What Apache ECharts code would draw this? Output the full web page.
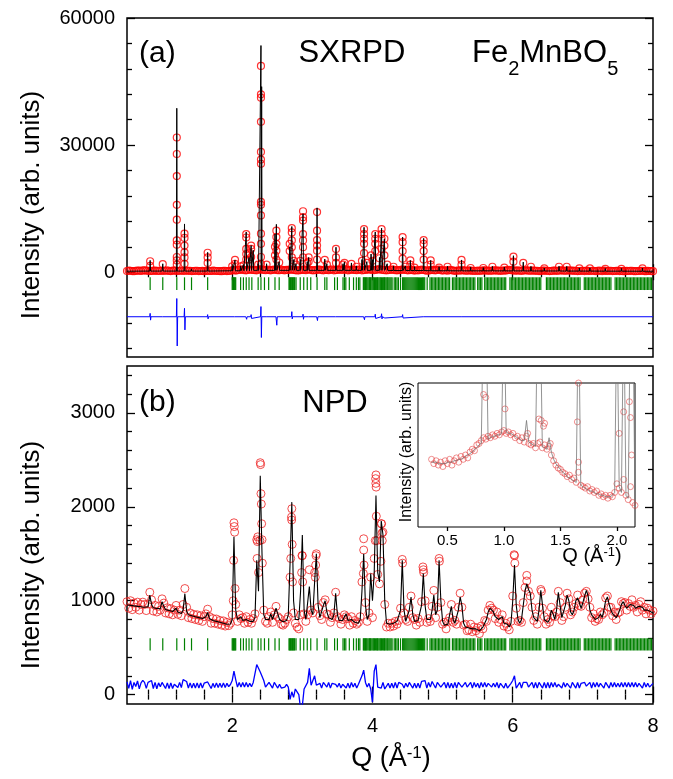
<!DOCTYPE html>
<html><head><meta charset="utf-8">
<script src="https://cdn.jsdelivr.net/npm/echarts@6/dist/echarts.min.js"></script>
<style>html,body{margin:0;padding:0;background:#fff}#c{width:673px;height:779px}</style>
</head><body><div id="c"></div>
<script>
// ---------- Panel (a) SXRPD ----------
const qStartA = 0.5, qStepA = 0.025;
const obsBaseA = [
300,380,350,280,250,330,400,360,300,420,
450,380,350,300,300,370,400,320,350,300,
400,330,350,420,300,280,400,360,350,300,
350,410,300,350,400,330,350,280,300,350,
350,280,300,330,250,310,350,290,300,380,
350,300,300,270,250,330,350,280,300,350,
450,500,400,480,550,620,600,500,450,560,
650,580,550,480,450,600,700,620,550,480,
600,520,450,560,650,580,500,470,600,520,
450,580,550,600,650,560,500,430,450,520,
600,550,500,620,650,520,450,480,550,630,
600,520,450,560,550,480,600,650,450,520,
550,620,600,530,700,600,450,520,650,580,
550,480,600,650,450,520,550,620,650,580,
600,520,550,680,700,600,550,480,450,520,
550,620,600,500,450,520,550,600,600,530,
450,500,550,480,400,470,450,520,600,530,
450,380,400,480,550,500,450,550,650,500,
400,470,450,380,550,500,400,330,350,420,
400,450,450,380,350,420,400,330,350,300,
400,330,350,420,450,380,400,350,350,420,
450,380,400,330,350,420,400,480,550,470,
450,380,400,420,350,330,400,460,450,380,
350,400,400,330,350,280,300,370,400,330,
350,280,300,370,400,330,350,420,450,380,
350,400,450,380,400,330,350,280,300,350,
350,280,400,330,300,350,350,280,300,370,
350,280,400,330,300,350,350,270,300,330,
350,280,300,250,250,320,300,330,350,280,
250,300,300,330,350,280,250,320,300,280,
250];
const bgQA = [0.5,1,1.5,2,2.5,3,3.5,4,4.5,5,5.5,6,6.5,7,7.5,8];
const bgA = [250,280,280,350,450,450,450,450,400,350,330,320,300,280,260,240];
const peakQA = [0.83,1.01,1.21,1.32,1.42,1.65,2.00,2.04,2.12,2.16,2.20,2.24,2.27,2.30,2.37,2.41,2.42,2.49,2.61,2.63,2.67,2.82,2.85,2.88,2.91,2.97,3.01,3.07,3.09,3.21,3.32,3.35,3.48,3.58,3.60,3.70,3.77,3.85,3.88,3.92,3.98,4.00,4.04,4.10,4.13,4.17,4.21,4.30,4.43,4.47,4.54,4.60,4.73,4.83,4.95,5.07,5.27,5.40,5.58,5.71,5.88,6.01,6.15,6.26,6.45,6.66,6.77,6.95,7.10,7.32,7.55,7.85];
const peakHA = [2800,2000,38700,11400,800,4700,1500,2900,1500,1800,9500,3500,6300,5200,2000,53500,43800,2000,9000,11300,2500,6000,10800,3000,2000,3000,13800,2500,3500,15200,3100,2000,5900,2000,2400,2200,1500,3000,10600,2500,4300,3000,9500,3500,10400,7900,2000,1500,8300,1500,2800,1300,8000,2800,1300,1400,2900,1200,1100,1400,1200,3900,2400,1400,1000,1400,1400,1000,1000,900,900,1000];
const obsPeakA = [
[0.83,2600],[0.83,1500],[1.01,1900],
[1.21,31800],[1.21,27900],[1.21,22700],[1.21,15900],[1.21,12400],[1.21,7500],[1.21,6500],[1.21,3600],[1.21,2800],[1.21,1800],
[1.32,9100],[1.32,8100],[1.32,6300],[1.32,4700],[1.32,3500],[1.32,2000],
[1.65,4600],[1.65,3500],[1.65,2200],[2.00,1400],[2.04,2900],[2.04,2000],[2.12,1400],[2.16,1600],
[2.20,9000],[2.20,8200],[2.20,5500],[2.20,4300],[2.20,3000],[2.24,4500],[2.24,3000],
[2.27,6300],[2.27,5500],[2.27,3600],[2.37,1800],
[2.41,48700],[2.41,42000],[2.41,41200],[2.41,35500],[2.41,28400],[2.41,26600],[2.41,25600],[2.41,16600],[2.41,15900],[2.41,13400],[2.41,9100],[2.41,6700],[2.41,3600],[2.41,2000],
[2.49,1800],[2.61,6000],[2.61,4000],[2.63,9800],[2.63,8300],[2.63,6700],[2.63,5100],[2.63,3000],[2.67,2300],
[2.82,6700],[2.82,5000],[2.85,10400],[2.85,9400],[2.85,7500],[2.85,5900],[2.85,3500],[2.88,2700],[2.91,1800],[2.97,2700],
[3.01,14400],[3.01,13000],[3.01,12200],[3.01,9000],[3.01,7500],[3.01,5900],[3.01,3500],[3.07,2200],[3.09,3500],[3.09,2500],
[3.21,14200],[3.21,9800],[3.21,7600],[3.21,6300],[3.21,5100],[3.21,3000],[3.32,2900],[3.35,1800],
[3.48,5500],[3.48,3500],[3.48,2200],[3.58,1800],[3.60,2200],[3.70,2000],[3.77,1300],[3.85,2700],
[3.88,10200],[3.88,9000],[3.88,7900],[3.88,6700],[3.88,4500],[3.92,2200],[3.98,4000],[4.00,2700],
[4.04,9000],[4.04,7900],[4.04,6700],[4.04,5000],[4.10,3300],
[4.13,10200],[4.13,9000],[4.13,7900],[4.13,5500],[4.17,7900],[4.17,6300],[4.17,4000],[4.21,1800],[4.30,1300],
[4.43,8300],[4.43,7100],[4.43,5000],[4.43,3200],[4.47,1300],[4.54,2800],[4.54,1800],[4.60,1100],
[4.73,7600],[4.73,6700],[4.73,5000],[4.73,3000],[4.83,2800],[4.83,1800],[4.95,1100],[5.07,1300],
[5.27,2900],[5.27,1800],[5.40,1000],[5.58,1000],[5.71,1300],[5.88,1100],[6.01,3700],[6.01,2500],[6.15,2200],
[6.26,1300],[6.45,900],[6.66,1300],[6.77,1300],[6.95,900],[7.10,900],[7.32,800],[7.55,800],[7.85,900]];
const diffOffsetA = -10500;
const diffSpikeA = [[0.83,800,800],[1.01,300,300],[1.21,4300,6900],[1.32,2000,3100],[1.65,500,500],[2.04,400,300],[2.20,400,600],[2.27,500,400],[2.41,2400,4900],[2.49,300,300],[2.63,300,2000],[2.85,1200,500],[3.01,600,600],[3.09,300,300],[3.21,200,900],[3.48,300,300],[3.88,400,700],[4.04,600,400],[4.13,700,500],[4.17,400,300],[4.43,500,300],[4.73,400,300],[5.27,200,200],[6.01,300,200]];

// ---------- Bragg reflection positions (shared) ----------
const braggQ = [0.83,1.01,1.21,1.32,1.42,1.65,2.00,2.01,2.02,2.03,2.04,2.05,2.12,2.16,2.20,2.24,2.28,2.37,2.41,2.46,2.52,2.61,2.67,2.81,2.82,2.83,2.84,2.85,2.86,2.87,2.88,2.89,2.91,2.97,3.02,3.07,3.12,3.21,3.32,3.35,3.46,3.50,3.58,3.60,3.62,3.67,3.73,3.77,3.80,3.82,
3.87,3.88,3.89,3.90,3.91,3.92,3.935,3.95,3.96,3.97,3.98,3.995,4.01,4.02,4.03,4.045,4.06,4.07,4.08,4.095,4.11,4.12,4.13,4.145,4.16,4.17,4.18,4.195,4.21,4.22,4.235,4.25,4.265,4.28,
4.31,4.33,4.35,4.37,4.40,
4.43,4.445,4.46,4.475,4.49,4.505,4.52,4.535,4.55,4.565,4.58,4.595,4.61,4.625,4.64,4.655,4.67,4.685,4.70,4.715,4.73,4.745,
4.78,4.82,4.84,4.86,4.88,4.90,4.92,4.94,4.96,4.98,5.00,5.02,5.04,5.06,5.08,5.10,5.14,5.16,5.18,5.20,5.22,5.24,5.26,5.28,5.30,5.32,5.34,5.36,5.38,5.40,5.42,5.44,5.46,5.50,5.52,5.54,5.56,5.60,5.62,5.64,5.66,5.68,5.70,5.72,5.74,5.76,5.78,5.80,5.82,5.84,5.86,5.88,5.90,5.96,5.98,6.00,6.02,6.04,6.06,6.08,6.10,6.12,6.14,6.16,6.18,6.20,6.22,6.24,6.26,6.28,6.30,6.32,6.34,6.36,6.38,6.40,6.48,6.50,6.52,6.54,6.56,6.58,6.60,6.62,6.64,6.66,6.68,6.70,6.72,6.74,6.76,6.78,6.80,6.82,6.84,6.86,6.88,6.90,6.92,6.94,6.96,7.02,7.04,7.06,7.08,7.10,7.12,7.14,7.16,7.18,7.20,7.22,7.24,7.26,7.28,7.30,7.32,7.34,7.36,7.38,7.40,7.46,7.48,7.50,7.52,7.54,7.56,7.58,7.60,7.62,7.64,7.66,7.68,7.70,7.72,7.74,7.76,7.78,7.80,7.82,7.84,7.86,7.88,7.90,7.92,7.94,7.96,7.98];
const braggRangeA = [-1200, -4200];
const braggRangeB = [470, 600];

// ---------- Panel (b) NPD ----------
const qStartB = 0.5, qStepB = 0.025;
const calcB = [
955,953,950,948,945,943,940,938,935,933,
930,928,935,1060,960,925,920,918,915,915,
990,940,905,900,895,890,885,890,920,880,
870,865,900,1075,890,850,845,840,835,830,
825,820,815,810,808,830,875,810,795,790,
785,780,775,770,765,760,755,750,750,752,
800,1680,900,800,820,830,790,780,800,790,
780,775,780,820,1430,1100,2330,1500,850,800,
790,800,860,800,820,920,860,800,780,775,
780,790,850,1400,2050,1000,800,790,800,1100,
1700,900,800,820,1150,900,850,1200,1500,950,
820,830,950,1000,880,820,800,800,850,1080,
850,790,780,790,830,860,790,770,800,780,
770,780,760,800,1100,1500,950,800,850,1290,
1000,1300,2120,1300,1200,1850,1700,1000,760,740,
750,740,760,750,780,760,900,1430,900,780,
800,900,1040,850,780,770,790,800,950,1290,
950,800,780,800,900,1060,850,900,1430,1000,
780,740,730,750,850,940,800,760,780,900,
1040,950,760,720,700,710,720,700,690,700,
690,680,700,720,760,800,880,920,940,880,
830,850,800,780,830,760,740,750,720,760,
1000,1380,950,800,760,800,950,1100,1180,1120,
1080,900,820,800,780,900,1110,950,800,780,
770,800,900,860,800,900,1090,950,820,800,
950,1060,1000,880,850,900,1000,1030,980,920,
980,1050,1110,1050,900,850,830,800,780,820,
860,820,900,1000,1040,960,900,860,850,820,
850,900,960,990,950,920,940,960,980,950,
920,900,940,960,930,900,880,900,920,880,870];
const obsB = [
990,920,1000,905,975,930,985,900,960,985,
960,895,965,1090,1010,890,950,880,940,900,
1020,975,870,925,860,915,850,900,950,855,
900,840,960,1130,930,820,870,810,855,800,
850,790,840,780,830,860,910,830,760,810,
760,805,750,790,740,785,730,770,735,760,
850,1830,960,780,850,810,820,760,830,770,
800,760,810,860,1650,1300,2470,1650,900,780,
760,830,880,770,850,940,830,810,750,740,
760,800,830,1250,1980,870,760,720,700,850,
1480,860,780,850,1330,900,870,1300,1500,930,
840,800,980,1010,860,850,770,820,870,1090,
830,810,750,800,850,830,810,740,830,760,
790,750,770,830,1200,1660,980,780,870,1250,
820,1450,2340,1280,1180,1820,1730,960,720,760,
720,760,730,780,750,790,920,1440,870,800,
780,930,1050,820,800,740,810,770,990,1330,
1000,770,810,780,940,1110,820,930,1450,980,
750,770,700,780,820,960,770,790,750,930,
1080,930,740,750,680,690,750,670,720,680,
710,650,730,700,790,780,900,950,920,900,
810,880,770,800,850,730,760,720,690,780,
1050,1480,920,780,790,770,980,1140,1210,1100,
1050,930,790,830,750,930,1120,920,830,750,
800,770,930,840,830,880,1100,980,790,830,
930,1080,1020,850,880,930,970,1060,950,940,
1010,1080,1100,1020,930,820,860,780,810,800,
880,850,870,1030,1050,930,930,840,880,800,
870,880,990,970,980,900,970,940,1010,930,
950,880,960,990,900,930,860,920,900,860,890];
const obsPeakB = [[2.03,1790],[2.035,1730],[2.02,1430],[2.04,1130],[2.015,1000],
[2.355,1450],[2.36,1630],[2.365,1680],[2.405,2450],[2.41,2140],[2.415,2030],[2.42,1820],[2.395,1640],[2.43,1400],
[2.845,1890],[2.848,1860],[2.855,1600],[2.835,1450],[2.86,1200],[2.995,1480],[2.99,1300],[3.005,1200],
[3.195,1480],[3.19,1380],[3.185,1250],[3.875,1540],[3.88,1380],[3.87,1290],
[4.045,2300],[4.048,2250],[4.052,2210],[4.055,1900],[4.06,1640],[4.04,1640],
[4.13,1820],[4.135,1720],[4.14,1640],[4.12,1420],[4.43,1400],[4.72,1360],[4.73,1300],[4.955,1420],
[6.02,1490],[6.03,1400],[6.2,1270],[6.41,1100]];
const diffOffsetB = 100;

// ---------- Inset (low Q) ----------
const qStartI = 0.36, qStepI = 0.02;
const obsI = [
47,44,46,43,45,42,46,44,47,43,
46,48,45,49,47,50,48,52,54,53,
57,58,60,62,61,63,62,64,63,65,
64,66,67,65,66,64,65,62,63,60,
62,59,63,58,57,58,55,58,59,55,
57,54,56,50,46,43,41,40,38,37,
35,36,33,34,31,38,29,28,27,28,
25,26,24,25,22,23,21,22,20,22,
21,24,30,27,24,33,22,19,28,17,
15];
const calcI = [
45,45,45,44,44,44,44,45,45,45,46,46,47,47,48,49,50,51,52,54,
55,57,58,160,160,61,62,63,63,64,
64,65,160,66,65,65,64,63,62,61,
60,60,74,59,58,57,56,160,160,56,
55,54,62,52,47,44,42,40,38,37,
35,34,33,32,31,160,29,28,27,26,
25,25,24,23,23,22,22,21,21,21,
22,24,160,28,24,160,22,20,160,160,
16];
const obsPeakI = [[0.82,92],[0.84,90],[1.01,82],[1.21,65],[1.31,75],[1.33,74],[1.35,70],[1.36,72],[1.41,58],[1.66,100],[1.65,73],[1.66,45],[2.02,65],[2.06,80],[2.11,87],[2.12,76],[2.13,50]];

// ---------- Axis ticks ----------
const xMajor = [2,4,6,8];
const xMinor = [0.8,1.2,1.6,2.4,2.8,3.2,3.6,4.4,4.8,5.2,5.6,6.4,6.8,7.2,7.6];
const yMajorA = [0,30000,60000];
const yMinorA = [-18000,-12000,-6000,6000,12000,18000,24000,36000,42000,48000,54000];
const yMajorB = [0,1000,2000,3000];
const yMinorB = [200,400,600,800,1200,1400,1600,1800,2200,2400,2600,2800,3200,3400];
const xMajorI = [0.5,1.0,1.5,2.0];
const xMinorI = [0.25,0.75,1.25,1.75];
const yTickI = [10,20,30,40,50,60,70,80,90];

// ================= build =================
const FN = 'Liberation Sans';
const F = '"Liberation Sans", Arial, Helvetica, sans-serif';
const r4 = v => Math.round(v * 10000) / 10000;

const obsAData = obsBaseA.map((v, i) => [r4(qStartA + i * qStepA), v]).concat(obsPeakA);
function nearestBg(q) {
  let best = 0;
  for (let i = 1; i < bgQA.length; i++) if (Math.abs(bgQA[i] - q) < Math.abs(bgQA[best] - q)) best = i;
  return bgA[best];
}
const W = 0.006;
let calcAData = bgQA.map((q, i) => [q, bgA[i]]);
peakQA.forEach((q, i) => {
  const b = nearestBg(q);
  calcAData.push([q - W, b], [q, peakHA[i]], [q + W, b]);
});
calcAData.sort((a, b) => a[0] - b[0]);
let diffAData = [[0.5, diffOffsetA], [8, diffOffsetA]];
diffSpikeA.forEach(s => {
  diffAData.push([s[0] - W, diffOffsetA], [s[0], diffOffsetA + s[1]], [s[0] + W, diffOffsetA - s[2]], [s[0] + 2 * W, diffOffsetA]);
});
diffAData.sort((a, b) => a[0] - b[0]);

const obsBData = obsB.map((v, i) => [r4(qStartB + i * qStepB), v]).concat(obsPeakB);
const calcBData = calcB.map((v, i) => [r4(qStartB + i * qStepB), v]);
const diffBData = obsB.map((v, i) => [r4(qStartB + i * qStepB), v - calcB[i] + diffOffsetB]);

const obsIData = obsI.map((v, i) => [r4(qStartI + i * qStepI), v]).concat(obsPeakI);
const calcIData = calcI.map((v, i) => [r4(qStartI + i * qStepI), v]);

function braggSeries(xi, yi, range) {
  return {
    type: 'custom', xAxisIndex: xi, yAxisIndex: yi, silent: true, z: 2,
    data: braggQ.map(q => [q, range[0]]),
    encode: {x: 0, y: 1},
    renderItem: function (params, api) {
      const q = api.value(0);
      const p0 = api.coord([q, range[0]]);
      const p1 = api.coord([q, range[1]]);
      return {type: 'line', shape: {x1: p0[0], y1: p0[1], x2: p1[0], y2: p1[1]},
        style: {stroke: '#008000', lineWidth: 1.2}};
    }
  };
}

const labelBase = {fontSize: 20, fontFamily: F, color: '#000', margin: 12, formatter: v => String(v)};
function axis(grid, pos, min, max, ticks, len, label) {
  return {
    type: 'value', gridIndex: grid, position: pos, min: min, max: max,
    axisLine: {show: false}, splitLine: {show: false},
    axisTick: {show: true, inside: true, length: len, customValues: ticks, lineStyle: {color: '#000', width: 1.3}},
    axisLabel: label ? Object.assign({show: true, customValues: ticks}, label) : {show: false}
  };
}

const xAxes = [
  axis(0, 'bottom', 0.5, 8, xMajor, 8, null),
  axis(0, 'top', 0.5, 8, xMajor, 8, null),
  axis(1, 'bottom', 0.5, 8, xMinor, 5, null),
  axis(1, 'top', 0.5, 8, xMinor, 5, null),
  axis(2, 'bottom', 0.5, 8, xMajor, 8, labelBase),
  axis(2, 'top', 0.5, 8, xMajor, 8, null),
  axis(3, 'bottom', 0.5, 8, xMinor, 5, null),
  axis(3, 'top', 0.5, 8, xMinor, 5, null),
  axis(4, 'bottom', 0.24, 2.16, xMajorI, 4, {fontSize: 15, fontFamily: F, color: '#000', margin: 6, formatter: v => Number(v).toFixed(1)}),
  axis(4, 'top', 0.24, 2.16, xMajorI, 4, null)
];
const yAxes = [
  axis(0, 'left', -20000, 60000, yMajorA, 8, labelBase),
  axis(0, 'right', -20000, 60000, yMajorA, 8, null),
  axis(1, 'left', -20000, 60000, yMinorA, 5, null),
  axis(1, 'right', -20000, 60000, yMinorA, 5, null),
  axis(2, 'left', -100, 3500, yMajorB, 8, labelBase),
  axis(2, 'right', -100, 3500, yMajorB, 8, null),
  axis(3, 'left', -100, 3500, yMinorB, 5, null),
  axis(3, 'right', -100, 3500, yMinorB, 5, null),
  axis(4, 'left', 0, 100, yTickI, 3, null),
  axis(4, 'right', 0, 100, yTickI, 3, null)
];

const redCircle = (size, col, bw) => ({
  type: 'scatter', symbol: 'circle', symbolSize: size, silent: true, z: 2,
  itemStyle: {color: 'rgba(0,0,0,0)', borderColor: col, borderWidth: bw}
});

const series = [
  Object.assign(redCircle(7, '#ff0000', 1.2), {xAxisIndex: 0, yAxisIndex: 0, data: obsAData}),
  {type: 'line', xAxisIndex: 0, yAxisIndex: 0, data: calcAData, showSymbol: false, silent: true, z: 3,
    lineStyle: {color: '#000', width: 1}},
  braggSeries(0, 0, braggRangeA),
  {type: 'line', xAxisIndex: 0, yAxisIndex: 0, data: diffAData, showSymbol: false, silent: true, z: 3,
    lineStyle: {color: '#0000ff', width: 1}},

  Object.assign(redCircle(8, '#ee2222', 1), {xAxisIndex: 4, yAxisIndex: 4, data: obsBData}),
  {type: 'line', xAxisIndex: 4, yAxisIndex: 4, data: calcBData, showSymbol: false, silent: true, z: 3,
    lineStyle: {color: '#000', width: 1.1}},
  braggSeries(4, 4, braggRangeB),
  {type: 'line', xAxisIndex: 4, yAxisIndex: 4, data: diffBData, showSymbol: false, silent: true, z: 3,
    lineStyle: {color: '#0000ff', width: 1.3}},

  Object.assign(redCircle(6, 'rgba(225,50,50,0.85)', 0.8), {xAxisIndex: 8, yAxisIndex: 8, data: obsIData, z: 5}),
  {type: 'line', xAxisIndex: 8, yAxisIndex: 8, data: calcIData, showSymbol: false, silent: true, z: 6,
    lineStyle: {color: '#777', width: 0.8}}
];

const txt = (x, y, text, size, align, extra) => Object.assign({
  type: 'text', x: x, y: y, silent: true, z: 10,
  style: {text: text, fontSize: size, fontFamily: F, fill: '#000', align: align, verticalAlign: 'middle',
    textAlign: align, textVerticalAlign: 'middle'}
}, extra || {});

// chemical formula with subscripts, laid out by measured widths
const mctx = document.createElement('canvas').getContext('2d');
function textWidth(t, size) { mctx.font = size + 'px "' + FN + '"'; return mctx.measureText(t).width; }
const formulaParts = [['Fe', 31, 0], ['2', 20, 16], ['MnBO', 31, 0], ['5', 20, 16]];
const formulaEls = [];
let fx = 472;
formulaParts.forEach(p => {
  formulaEls.push(txt(fx, 53 + p[2], p[0], p[1], 'left'));
  fx += textWidth(p[0], p[1]);
});

const graphic = [
  txt(139, 54, '(a)', 30, 'left'),
  txt(352, 53, 'SXRPD', 31, 'center'),
  ...formulaEls,
  txt(139, 403, '(b)', 30, 'left'),
  txt(335, 403, 'NPD', 31, 'center'),
  txt(32, 205, 'Intensity (arb. units)', 26, 'center', {rotation: Math.PI / 2}),
  txt(32, 555, 'Intensity (arb. units)', 26, 'center', {rotation: Math.PI / 2}),
  {type: 'text', x: 391, y: 745, silent: true, z: 10,
    style: {text: '{n|Q (Å}{p|-1}{n|)}', fontFamily: F, fill: '#000', align: 'center', verticalAlign: 'top',
      rich: {n: {fontSize: 27, fontFamily: F, lineHeight: 36, verticalAlign: 'top'},
             p: {fontSize: 17, fontFamily: F, lineHeight: 16, verticalAlign: 'top'}}}},
  {type: 'text', x: 592, y: 546, silent: true, z: 10,
    style: {text: '{n|Q (Å}{p|-1}{n|)}', fontFamily: F, fill: '#000', align: 'center', verticalAlign: 'top',
      rich: {n: {fontSize: 20, fontFamily: F, lineHeight: 28, verticalAlign: 'top'},
             p: {fontSize: 13, fontFamily: F, lineHeight: 12, verticalAlign: 'top'}}}},
  txt(407, 452, 'Intensity (arb. units)', 16, 'center', {rotation: Math.PI / 2})
];

const chart = echarts.init(document.getElementById('c'), null, {renderer: 'canvas'});
chart.setOption({
  animation: false,
  backgroundColor: '#fff',
  grid: [
    {left: 127, top: 18, width: 526, height: 339, show: true, borderColor: '#000', borderWidth: 1.5, backgroundColor: 'rgba(0,0,0,0)'},
    {left: 127, top: 18, width: 526, height: 339, show: false},
    {left: 127, top: 366, width: 526, height: 338, show: true, borderColor: '#000', borderWidth: 1.5, backgroundColor: 'rgba(0,0,0,0)'},
    {left: 127, top: 366, width: 526, height: 338, show: false},
    {left: 418, top: 383, width: 217, height: 144, show: true, borderColor: '#000', borderWidth: 1, backgroundColor: '#fff', z: 4}
  ],
  xAxis: xAxes,
  yAxis: yAxes,
  series: series,
  graphic: graphic
});
</script></body></html>
